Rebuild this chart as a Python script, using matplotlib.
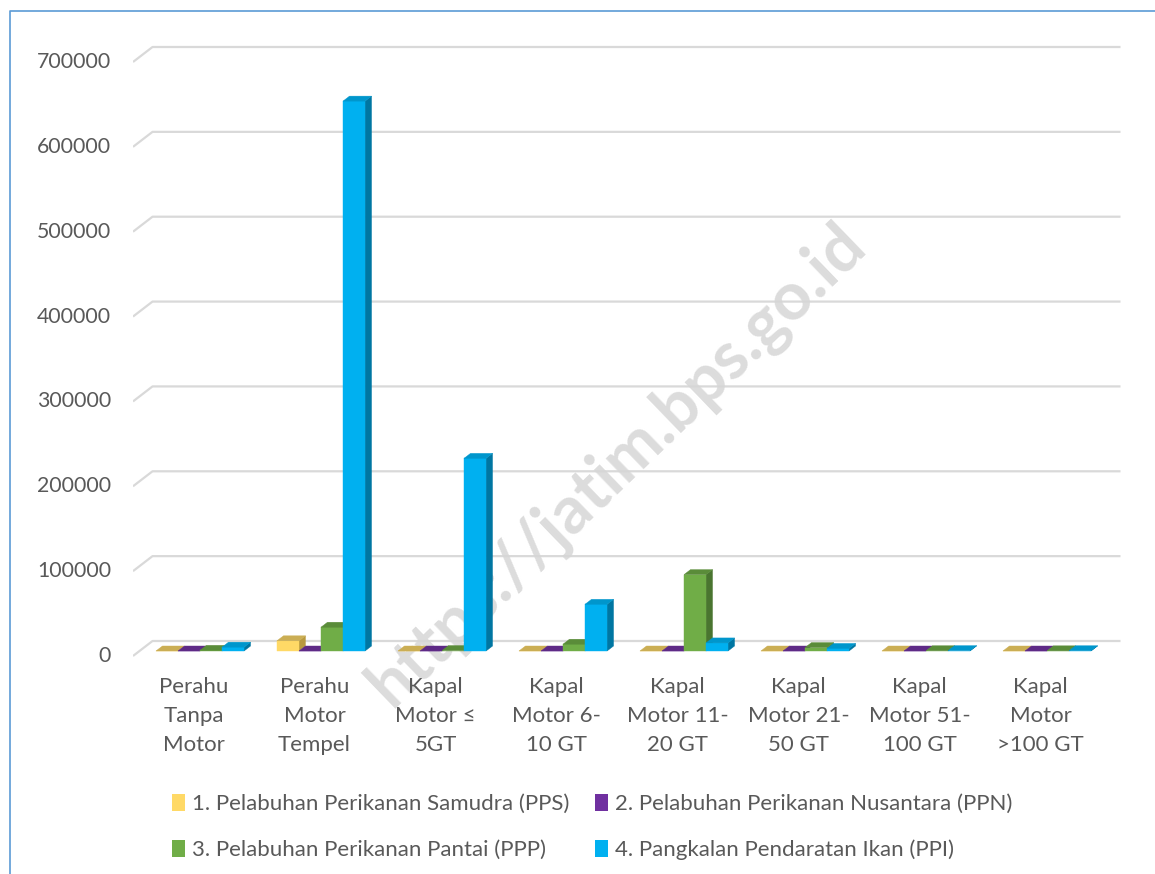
import matplotlib.pyplot as plt
from matplotlib.patches import Polygon, Patch
from matplotlib.lines import Line2D

plt.rcParams['font.family'] = ['Lato', 'DejaVu Sans']

categories = ["Perahu\nTanpa\nMotor", "Perahu\nMotor\nTempel", "Kapal\nMotor \u2264\n5GT",
              "Kapal\nMotor 6-\n10 GT", "Kapal\nMotor 11-\n20 GT", "Kapal\nMotor 21-\n50 GT",
              "Kapal\nMotor 51-\n100 GT", "Kapal\nMotor\n>100 GT"]
series_names = ["1. Pelabuhan Perikanan Samudra (PPS)", "2. Pelabuhan Perikanan Nusantara (PPN)",
                "3. Pelabuhan Perikanan Pantai (PPP)", "4. Pangkalan Pendaratan Ikan (PPI)"]
pps = [0, 12000, 0, 0, 0, 0, 0, 0]
ppn = [0, 0, 0, 0, 0, 0, 0, 0]
ppp = [800, 28000, 500, 8000, 90000, 4000, 300, 200]
ppi = [4500, 648000, 227000, 55000, 9500, 3000, 400, 300]
yticks = [0, 100000, 200000, 300000, 400000, 500000, 600000, 700000]

# front / top / side colours per series
colors = [("#FFD966", "#CBAE54", "#B8993F"),
          ("#7030A0", "#5E2A86", "#4B2070"),
          ("#70AD47", "#5A8C39", "#4A7530"),
          ("#00B0F0", "#0096CC", "#0076A2")]

W, H = 1155, 874
fig = plt.figure(figsize=(W / 100, H / 100), dpi=100)

# layout in pixels
ax_left, ax_right, ax_top, ax_bot = 133, 1135, 30, 680
px_cat = 121.0                 # pixels per category
zero_px, top_px = 656, 62      # front-plane pixel rows of 0 and 700000
px_val = (zero_px - top_px) / 700000.0
ax = fig.add_axes([ax_left / W, 1 - ax_bot / H, (ax_right - ax_left) / W, (ax_bot - ax_top) / H])
ax.set_xlim(-0.5, -0.5 + (ax_right - ax_left) / px_cat)
ax.set_ylim(-(ax_bot - zero_px) / px_val, (zero_px - ax_top) / px_val)
ax.axis('off')

# full floor depth in data units
Dx = 19.5 / px_cat
Dy = 15 / px_val
ncat = len(categories)
grid_c = "#D9D9D9"

for t in yticks:
    ax.plot([-0.5, -0.5 + Dx, ncat - 0.5 + Dx], [t, t + Dy, t + Dy], color=grid_c, lw=1.6,
            zorder=1, solid_capstyle='butt')
    ax.text(-0.5 - 22 / px_cat, t, str(t), ha='right', va='center', fontsize=15.3, color="#595959")

for i, c in enumerate(categories):
    ax.text(i, -(677 - zero_px) / px_val, c, ha='center', va='top', fontsize=16,
            color="#595959", linespacing=1.56)

ax.text(3.5, 225000, "https://jatim.bps.go.id", rotation=44, ha='center', va='center',
        fontsize=48, fontweight='bold', color="#D6D6D6", alpha=0.85, zorder=2)

bw = 0.182
f0, f1 = 1 / 3, 2 / 3
all_series = [pps, ppn, ppp, ppi]
for i in range(ncat):
    for s, vals in enumerate(all_series):
        v = vals[i]
        x0 = i - 2 * bw + s * bw
        x1 = x0 + bw
        fc, tc, sc = colors[s]
        a0x, a0y = f0 * Dx, f0 * Dy
        a1x, a1y = f1 * Dx, f1 * Dy
        front = [(x0 + a0x, a0y), (x1 + a0x, a0y), (x1 + a0x, v + a0y), (x0 + a0x, v + a0y)]
        top = [(x0 + a0x, v + a0y), (x1 + a0x, v + a0y), (x1 + a1x, v + a1y), (x0 + a1x, v + a1y)]
        side = [(x1 + a0x, a0y), (x1 + a1x, a1y), (x1 + a1x, v + a1y), (x1 + a0x, v + a0y)]
        ax.add_patch(Polygon(side, closed=True, facecolor=sc, edgecolor=sc, lw=0.3, zorder=3))
        ax.add_patch(Polygon(front, closed=True, facecolor=fc, edgecolor=fc, lw=0.3, zorder=3))
        ax.add_patch(Polygon(top, closed=True, facecolor=tc, edgecolor=tc, lw=0.3, zorder=3))

handles = [Patch(facecolor=colors[k][0], edgecolor='none', label=series_names[k]) for k in range(4)]
fig.legend(handles=[handles[0], handles[2], handles[1], handles[3]], ncol=2, loc='upper left',
           bbox_to_anchor=(152 / W, 1 - 774 / H), frameon=False, fontsize=16,
           handlelength=0.6, handleheight=0.8, handletextpad=0.3, columnspacing=1.15,
           labelspacing=1.15, labelcolor="#595959")

# chart area border (cropped on right and bottom)
fig.add_artist(Line2D([10 / W, 10 / W, 1.0], [0.0, 1 - 11 / H, 1 - 11 / H],
                      transform=fig.transFigure, color="#5B9BD5", lw=1.2))

fig.savefig("out.png", dpi=100)
